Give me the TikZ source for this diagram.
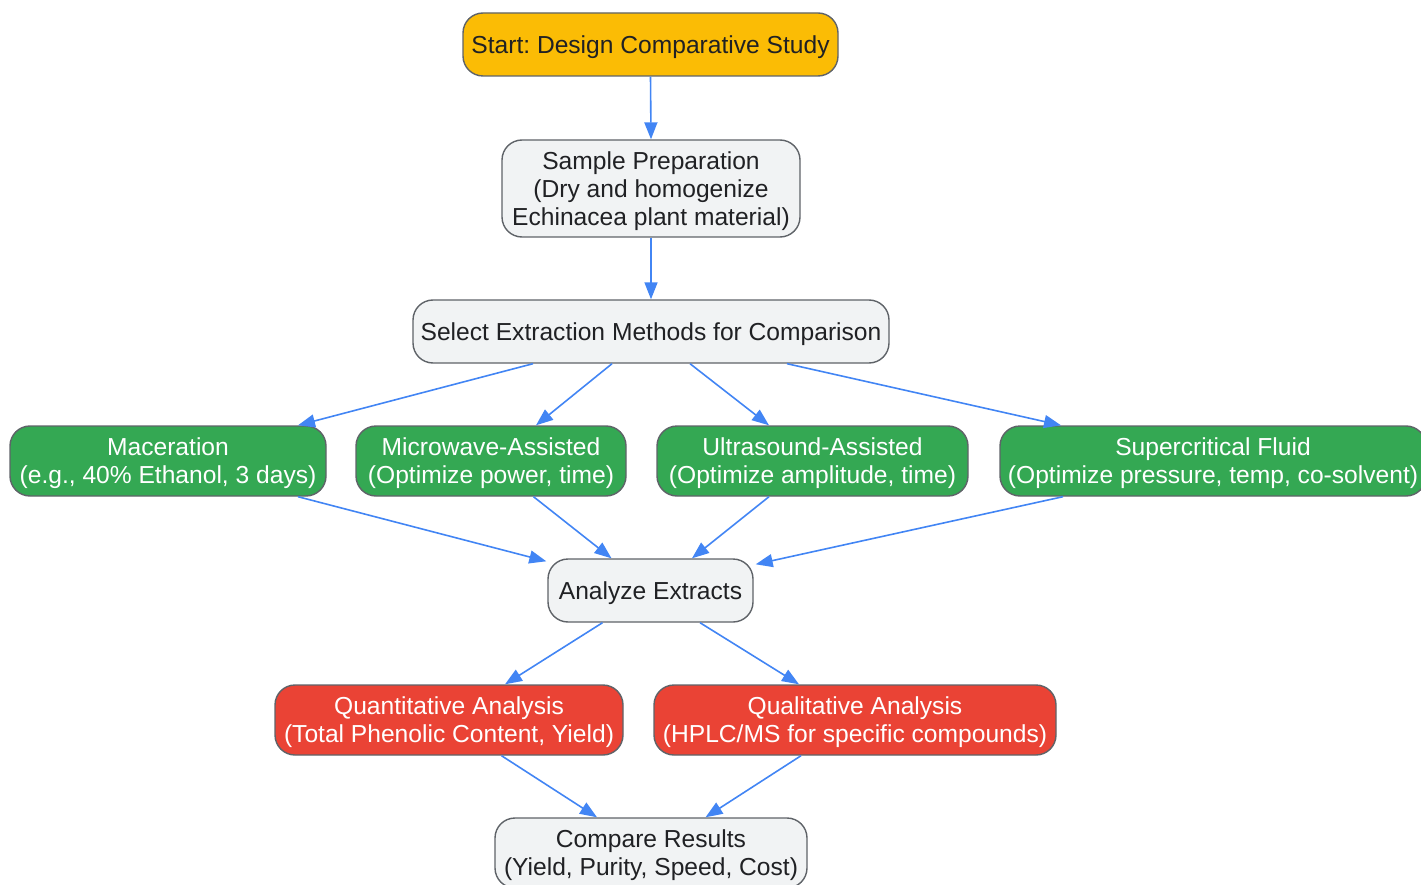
\documentclass[tikz,border=0pt]{standalone}
\usepackage{fontspec}
\setmainfont{Liberation Sans}
\usetikzlibrary{arrows.meta}
\frenchspacing
\definecolor{cyel}{HTML}{FBBC05}
\definecolor{cgrn}{HTML}{34A853}
\definecolor{cred}{HTML}{EA4335}
\definecolor{cgry}{HTML}{F1F3F4}
\definecolor{cbrd}{HTML}{5F6368}
\definecolor{carr}{HTML}{4285F4}
\definecolor{ctxt}{HTML}{202124}
\tikzset{
  box/.style={draw=cbrd, line width=1.4pt, rounded corners=20pt, inner sep=0pt, align=center,
    text depth=0pt, font=\fontsize{24.6}{28}\selectfont\frenchspacing},
  graybox/.style={box, fill=cgry, text=ctxt},
  yelbox/.style={box, fill=cyel, text=ctxt},
  grnbox/.style={box, fill=cgrn, text=white},
  redbox/.style={box, fill=cred, text=white},
  arr/.style={draw=carr, line width=1.6pt, -{Triangle[length=17pt,width=13pt]}},
}
\begin{document}
\begin{tikzpicture}[x=1pt,y=-1pt]
\useasboundingbox (0,0) rectangle (1421,885);
\clip (0,0) rectangle (1421,885);
\node[yelbox, minimum width=375pt, minimum height=63pt] (start) at (650.5,44.5) {Start: Design Comparative Study};
\node[graybox, minimum width=298pt, minimum height=97pt] (smp) at (651,188.5) {Sample Preparation\\(Dry and homogenize\\Echinacea plant material)};
\node[graybox, minimum width=476pt, minimum height=63pt] (sel) at (651,331.5) {Select Extraction Methods for Comparison};
\node[grnbox, minimum width=316pt, minimum height=70pt] (mac) at (168,461) {Maceration\\(e.g., 40\% Ethanol, 3 days)};
\node[grnbox, minimum width=270pt, minimum height=70pt] (mic) at (491,461) {Microwave-Assisted\\(Optimize power, time)};
\node[grnbox, minimum width=311pt, minimum height=70pt] (ult) at (812.5,461) {Ultrasound-Assisted\\(Optimize amplitude, time)};
\node[grnbox, minimum width=426pt, minimum height=70pt] (sup) at (1213,461) {Supercritical Fluid\\(Optimize pressure, temp, co-solvent)};
\node[graybox, minimum width=205pt, minimum height=63pt] (anl) at (650.5,590.5) {Analyze Extracts};
\node[redbox, minimum width=348pt, minimum height=70pt] (qnt) at (449,720) {Quantitative Analysis\\(Total Phenolic Content, Yield)};
\node[redbox, minimum width=402pt, minimum height=70pt] (qul) at (855,720) {Qualitative Analysis\\(HPLC/MS for specific compounds)};
\node[graybox, minimum width=312pt, minimum height=70pt] (cmp) at (651,853) {Compare Results\\(Yield, Purity, Speed, Cost)};

\draw[arr] (start.south) -- (smp.north);
\draw[arr] (smp.south) -- (sel.north);
\draw[arr] ([xshift=-118pt]sel.south) -- ([xshift=130pt]mac.north);
\draw[arr] ([xshift=-39pt]sel.south) -- ([xshift=45pt]mic.north);
\draw[arr] ([xshift=39pt]sel.south) -- ([xshift=-43.5pt]ult.north);
\draw[arr] ([xshift=136pt]sel.south) -- ([xshift=-152pt]sup.north);
\draw[arr] ([xshift=130pt]mac.south) -- ([xshift=-1pt,yshift=-3pt]anl.north west);
\draw[arr] ([xshift=42.5pt]mic.south) -- ([xshift=-39pt]anl.north);
\draw[arr] ([xshift=-43.5pt]ult.south) -- ([xshift=41.5pt]anl.north);
\draw[arr] ([xshift=-150pt]sup.south) -- ([xshift=2pt,yshift=-6pt]anl.north east);
\draw[arr] ([xshift=-48pt]anl.south) -- ([xshift=56pt]qnt.north);
\draw[arr] ([xshift=49.5pt]anl.south) -- ([xshift=-56pt]qul.north);
\draw[arr] ([xshift=52.5pt]qnt.south) -- ([xshift=-54pt]cmp.north);
\draw[arr] ([xshift=-54pt]qul.south) -- ([xshift=54.5pt]cmp.north);
\end{tikzpicture}
\end{document}
